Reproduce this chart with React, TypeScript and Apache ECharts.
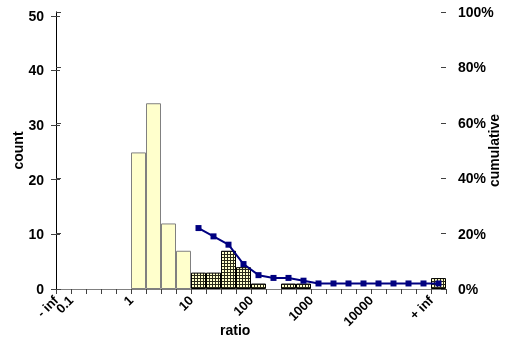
import React, { useEffect, useRef } from "react";
import * as echarts from "echarts";

const bins = ["b0","b1","b2","b3","b4","b5","b6","b7","b8","b9","b10","b11","b12","b13","b14","b15","b16","b17","b18","b19","b20","b21","b22","b23","b24","b25"];
const counts = [0, 0, 0, 0, 0, 25, 34, 12, 7, 3, 3, 7, 4, 1, 0, 1, 1, 0, 0, 0, 0, 0, 0, 0, 0, 2];
const solidBins = [5, 6, 7, 8];
const cumulative: (number | null)[] = [null, null, null, null, null, null, null, null, null, 22, 19, 16, 9, 5, 4, 4, 3, 2, 2, 2, 2, 2, 2, 2, 2, 2];
const tickPositions = [0, 1, 5, 9, 13, 17, 21, 25];
const tickLabels = ["- inf", "0.1", "1", "10", "100", "1000", "10000", "+ inf"];
const countTicks = [0, 10, 20, 30, 40, 50];

const FONT = "Liberation Sans";

function makePattern() {
  const c = document.createElement("canvas");
  c.width = 3;
  c.height = 3;
  const ctx = c.getContext("2d")!;
  ctx.fillStyle = "#2a2a1a";
  ctx.fillRect(0, 0, 3, 3);
  ctx.fillStyle = "#ffffcc";
  ctx.fillRect(0, 0, 2, 2);
  return c;
}

function labelAxis(positions: number[]) {
  return {
    type: "value",
    min: 0,
    max: 26,
    position: "bottom",
    axisLine: { show: false },
    axisTick: { show: false },
    splitLine: { show: false },
    axisLabel: {
      customValues: positions,
      showMinLabel: true,
      showMaxLabel: true,
      hideOverlap: false,
      formatter: (v: number) => {
        const i = tickPositions.indexOf(Math.round(v));
        return i >= 0 && positions.includes(Math.round(v)) ? tickLabels[i] : "";
      },
      rotate: 45,
      margin: 9,
      fontFamily: FONT,
      fontWeight: "bold",
      fontSize: 13,
      color: "#000",
    },
  };
}

export default function App() {
  const ref = useRef<HTMLDivElement>(null);
  useEffect(() => {
    const chart = echarts.init(ref.current!, null, { renderer: "svg" });
    const pattern = makePattern();
    const barData = counts.map((v, i) =>
      v === 0
        ? "-"
        : solidBins.includes(i)
        ? { value: v, itemStyle: { color: "#ffffcc", borderColor: "#808080", borderWidth: 1 } }
        : { value: v, itemStyle: { color: { image: pattern, repeat: "repeat" }, borderColor: "#000", borderWidth: 1 } }
    );
    const labelStyle = { fontFamily: FONT, fontWeight: "bold" as const, fontSize: 14, color: "#000" };
    chart.setOption({
      animation: false,
      grid: { left: 56, right: 69, top: 12, bottom: 54, containLabel: false, outerBoundsMode: "none" },
      xAxis: [
        {
          type: "category",
          data: bins,
          boundaryGap: true,
          axisLine: { lineStyle: { color: "#808080", width: 1 } },
          axisTick: { show: true, interval: 0, length: 5, lineStyle: { color: "#404040" } },
          axisLabel: { show: false },
          splitLine: { show: false },
        },
        labelAxis(tickPositions.slice(1)),
        {
          type: "category",
          data: bins,
          position: "top",
          axisLine: { lineStyle: { color: "#808080", width: 1 } },
          axisTick: { show: false },
          axisLabel: { show: false },
        },
        labelAxis(tickPositions.slice(0, 1)),
      ],
      yAxis: [
        {
          type: "value",
          min: 0,
          max: 50.7,
          interval: 10,
          position: "left",
          name: "count",
          nameLocation: "middle",
          nameRotate: 90,
          nameGap: 31,
          nameMoveOverlap: false,
          nameTextStyle: { ...labelStyle },
          axisLine: { show: true, lineStyle: { color: "#808080" } },
          axisTick: { show: true, length: 5, customValues: countTicks, lineStyle: { color: "#404040" } },
          axisLabel: { ...labelStyle, margin: 12, customValues: countTicks },
          splitLine: { show: false },
        },
        {
          type: "value",
          min: 0,
          max: 100,
          interval: 20,
          position: "right",
          name: "cumulative",
          nameLocation: "middle",
          nameRotate: 90,
          nameGap: 41,
          nameMoveOverlap: false,
          nameTextStyle: { ...labelStyle },
          axisLine: { show: true, lineStyle: { color: "#000" } },
          axisTick: { show: true, length: 5, lineStyle: { color: "#404040" } },
          axisLabel: { ...labelStyle, margin: 12, formatter: "{value}%" },
          splitLine: { show: false },
        },
        {
          type: "value",
          min: 0,
          max: 50.7,
          interval: 10,
          position: "left",
          axisLine: { show: false },
          axisTick: { show: true, inside: true, length: 4, customValues: countTicks, lineStyle: { color: "#404040" } },
          axisLabel: { show: false, customValues: countTicks },
          splitLine: { show: false },
        },
        {
          type: "value",
          min: 0,
          max: 100,
          interval: 20,
          position: "right",
          axisLine: { show: false },
          axisTick: { show: true, inside: true, length: 5, lineStyle: { color: "#404040" } },
          axisLabel: { show: false },
          splitLine: { show: false },
        },
      ],
      graphic: [
        {
          type: "text",
          left: 220,
          top: 323,
          style: { text: "ratio", fontFamily: FONT, fontWeight: "bold", fontSize: 14, fill: "#000" },
        },
      ],
      series: [
        {
          type: "bar",
          xAxisIndex: 0,
          yAxisIndex: 0,
          data: barData,
          barCategoryGap: "0%",
        },
        {
          type: "line",
          xAxisIndex: 0,
          yAxisIndex: 1,
          data: cumulative,
          symbol: "rect",
          symbolSize: 6,
          lineStyle: { color: "#000080", width: 2 },
          itemStyle: { color: "#000080" },
        },
      ],
    });
    return () => chart.dispose();
  }, []);
  return <div ref={ref} style={{ position: "fixed", left: 0, top: 0, width: 515, height: 343 }} />;
}
